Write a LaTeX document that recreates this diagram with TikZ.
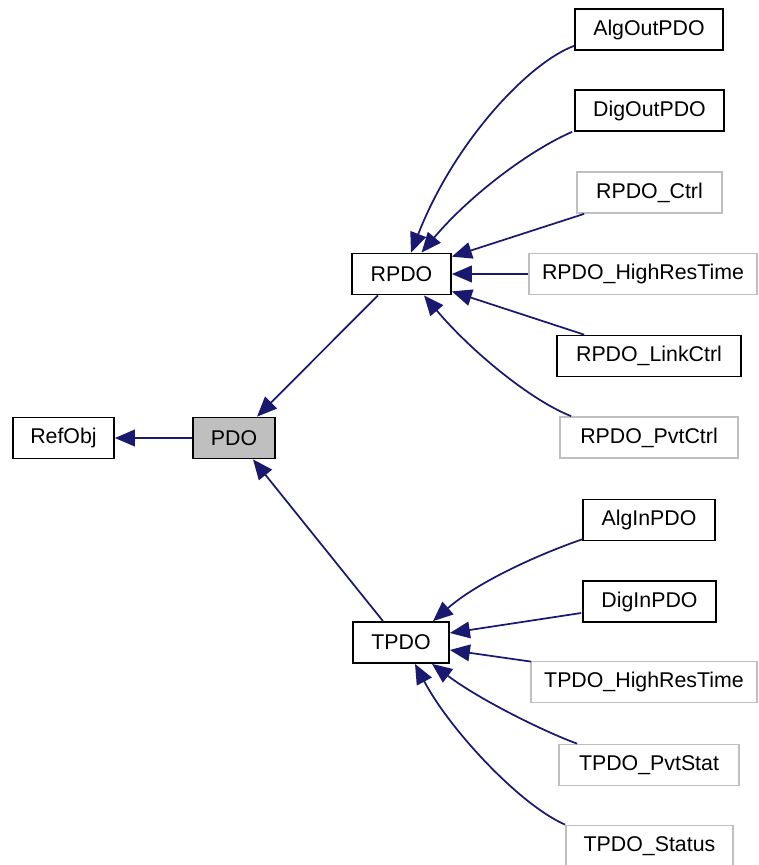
\documentclass[tikz,border=0pt]{standalone}
\usepackage{fontspec}
\setmainfont{Liberation Sans}
\usetikzlibrary{arrows.meta}
\definecolor{edgeblue}{HTML}{191970}
\definecolor{lgray}{HTML}{BFBFBF}
\begin{document}
\begin{tikzpicture}[x=0.75pt,y=-0.75pt,
  cls/.style={draw=black, line width=1.3pt, fill=white, minimum height=30.75pt,
    inner sep=0pt, font=\fontsize{16}{19}\selectfont},
  gcls/.style={cls, draw=lgray},
  link/.style={draw=edgeblue, line width=1.3pt, -{Triangle[length=15pt,width=12.5pt]}}]
\useasboundingbox (0,0) rectangle (758,865);

% nodes
\node[cls, minimum width=75.75pt] (refobj) at (63.5,438) {RefObj};
\node[cls, fill=lgray, minimum width=61.5pt] (pdo) at (234,438) {PDO};
\node[cls, minimum width=74.25pt] (rpdo) at (401.5,274) {RPDO};
\node[cls, minimum width=72pt] (tpdo) at (401,642.5) {TPDO};

\node[cls, minimum width=111pt] (algout) at (649,29.5) {AlgOutPDO};
\node[cls, minimum width=111.75pt] (digout) at (649.5,110.5) {DigOutPDO};
\node[gcls, minimum width=108.75pt] (rctrl) at (649.5,192.5) {RPDO\_Ctrl};
\node[gcls, minimum width=171pt] (rhrt) at (643,274) {RPDO\_HighResTime};
\node[cls, minimum width=138pt] (rlink) at (649,356) {RPDO\_LinkCtrl};
\node[gcls, minimum width=133.5pt] (rpvt) at (649,437.5) {RPDO\_PvtCtrl};

\node[cls, minimum width=99pt] (algin) at (649,520) {AlgInPDO};
\node[cls, minimum width=99.75pt] (digin) at (649.5,601.5) {DigInPDO};
\node[gcls, minimum width=169.5pt] (thrt) at (644,682) {TPDO\_HighResTime};
\node[gcls, minimum width=135pt] (tpvt) at (649,765) {TPDO\_PvtStat};
\node[gcls, minimum width=125.25pt] (tstat) at (649.5,846) {TPDO\_Status};

% edges
\draw[link] (pdo.west) -- (refobj.east);
\draw[link] ([shift={(-23.5,0)}]rpdo.south) -- ([shift={(23,0)}]pdo.north);
\draw[link] ([shift={(-18,0)}]tpdo.north) -- ([shift={(19,0)}]pdo.south);

\draw[link] ([shift={(0,-5)}]algout.south west) .. controls (530,62) and (455,140) .. ([shift={(9.5,0)}]rpdo.north);
\draw[link] ([shift={(-2,0)}]digout.south west) .. controls (530,150) and (470,195) .. ([shift={(20,0)}]rpdo.north);
\draw[link] ([shift={(8,0)}]rctrl.south west) -- ([shift={(0,4)}]rpdo.north east);
\draw[link] (rhrt.west) -- (rpdo.east);
\draw[link] ([shift={(28,0)}]rlink.north west) -- ([shift={(0,-4)}]rpdo.south east);
\draw[link] ([shift={(12,0)}]rpvt.north west) .. controls (530,400) and (470,350) .. ([shift={(22.5,0)}]rpdo.south);

\draw[link] ([shift={(0,-2)}]algin.south west) .. controls (545,552) and (480,580) .. ([shift={(32,0)}]tpdo.north);
\draw[link] ([shift={(-1,11.5)}]digin.west) -- ([shift={(0,-9.5)}]tpdo.east);
\draw[link] ([shift={(1,1)}]thrt.north west) -- ([shift={(0,7.5)}]tpdo.east);
\draw[link] ([shift={(19,0)}]tpvt.north west) .. controls (545,732) and (480,700) .. ([shift={(31,0)}]tpdo.south);
\draw[link] (tstat.north west) .. controls (520,805) and (450,730) .. ([shift={(14,0)}]tpdo.south);
\end{tikzpicture}
\end{document}
